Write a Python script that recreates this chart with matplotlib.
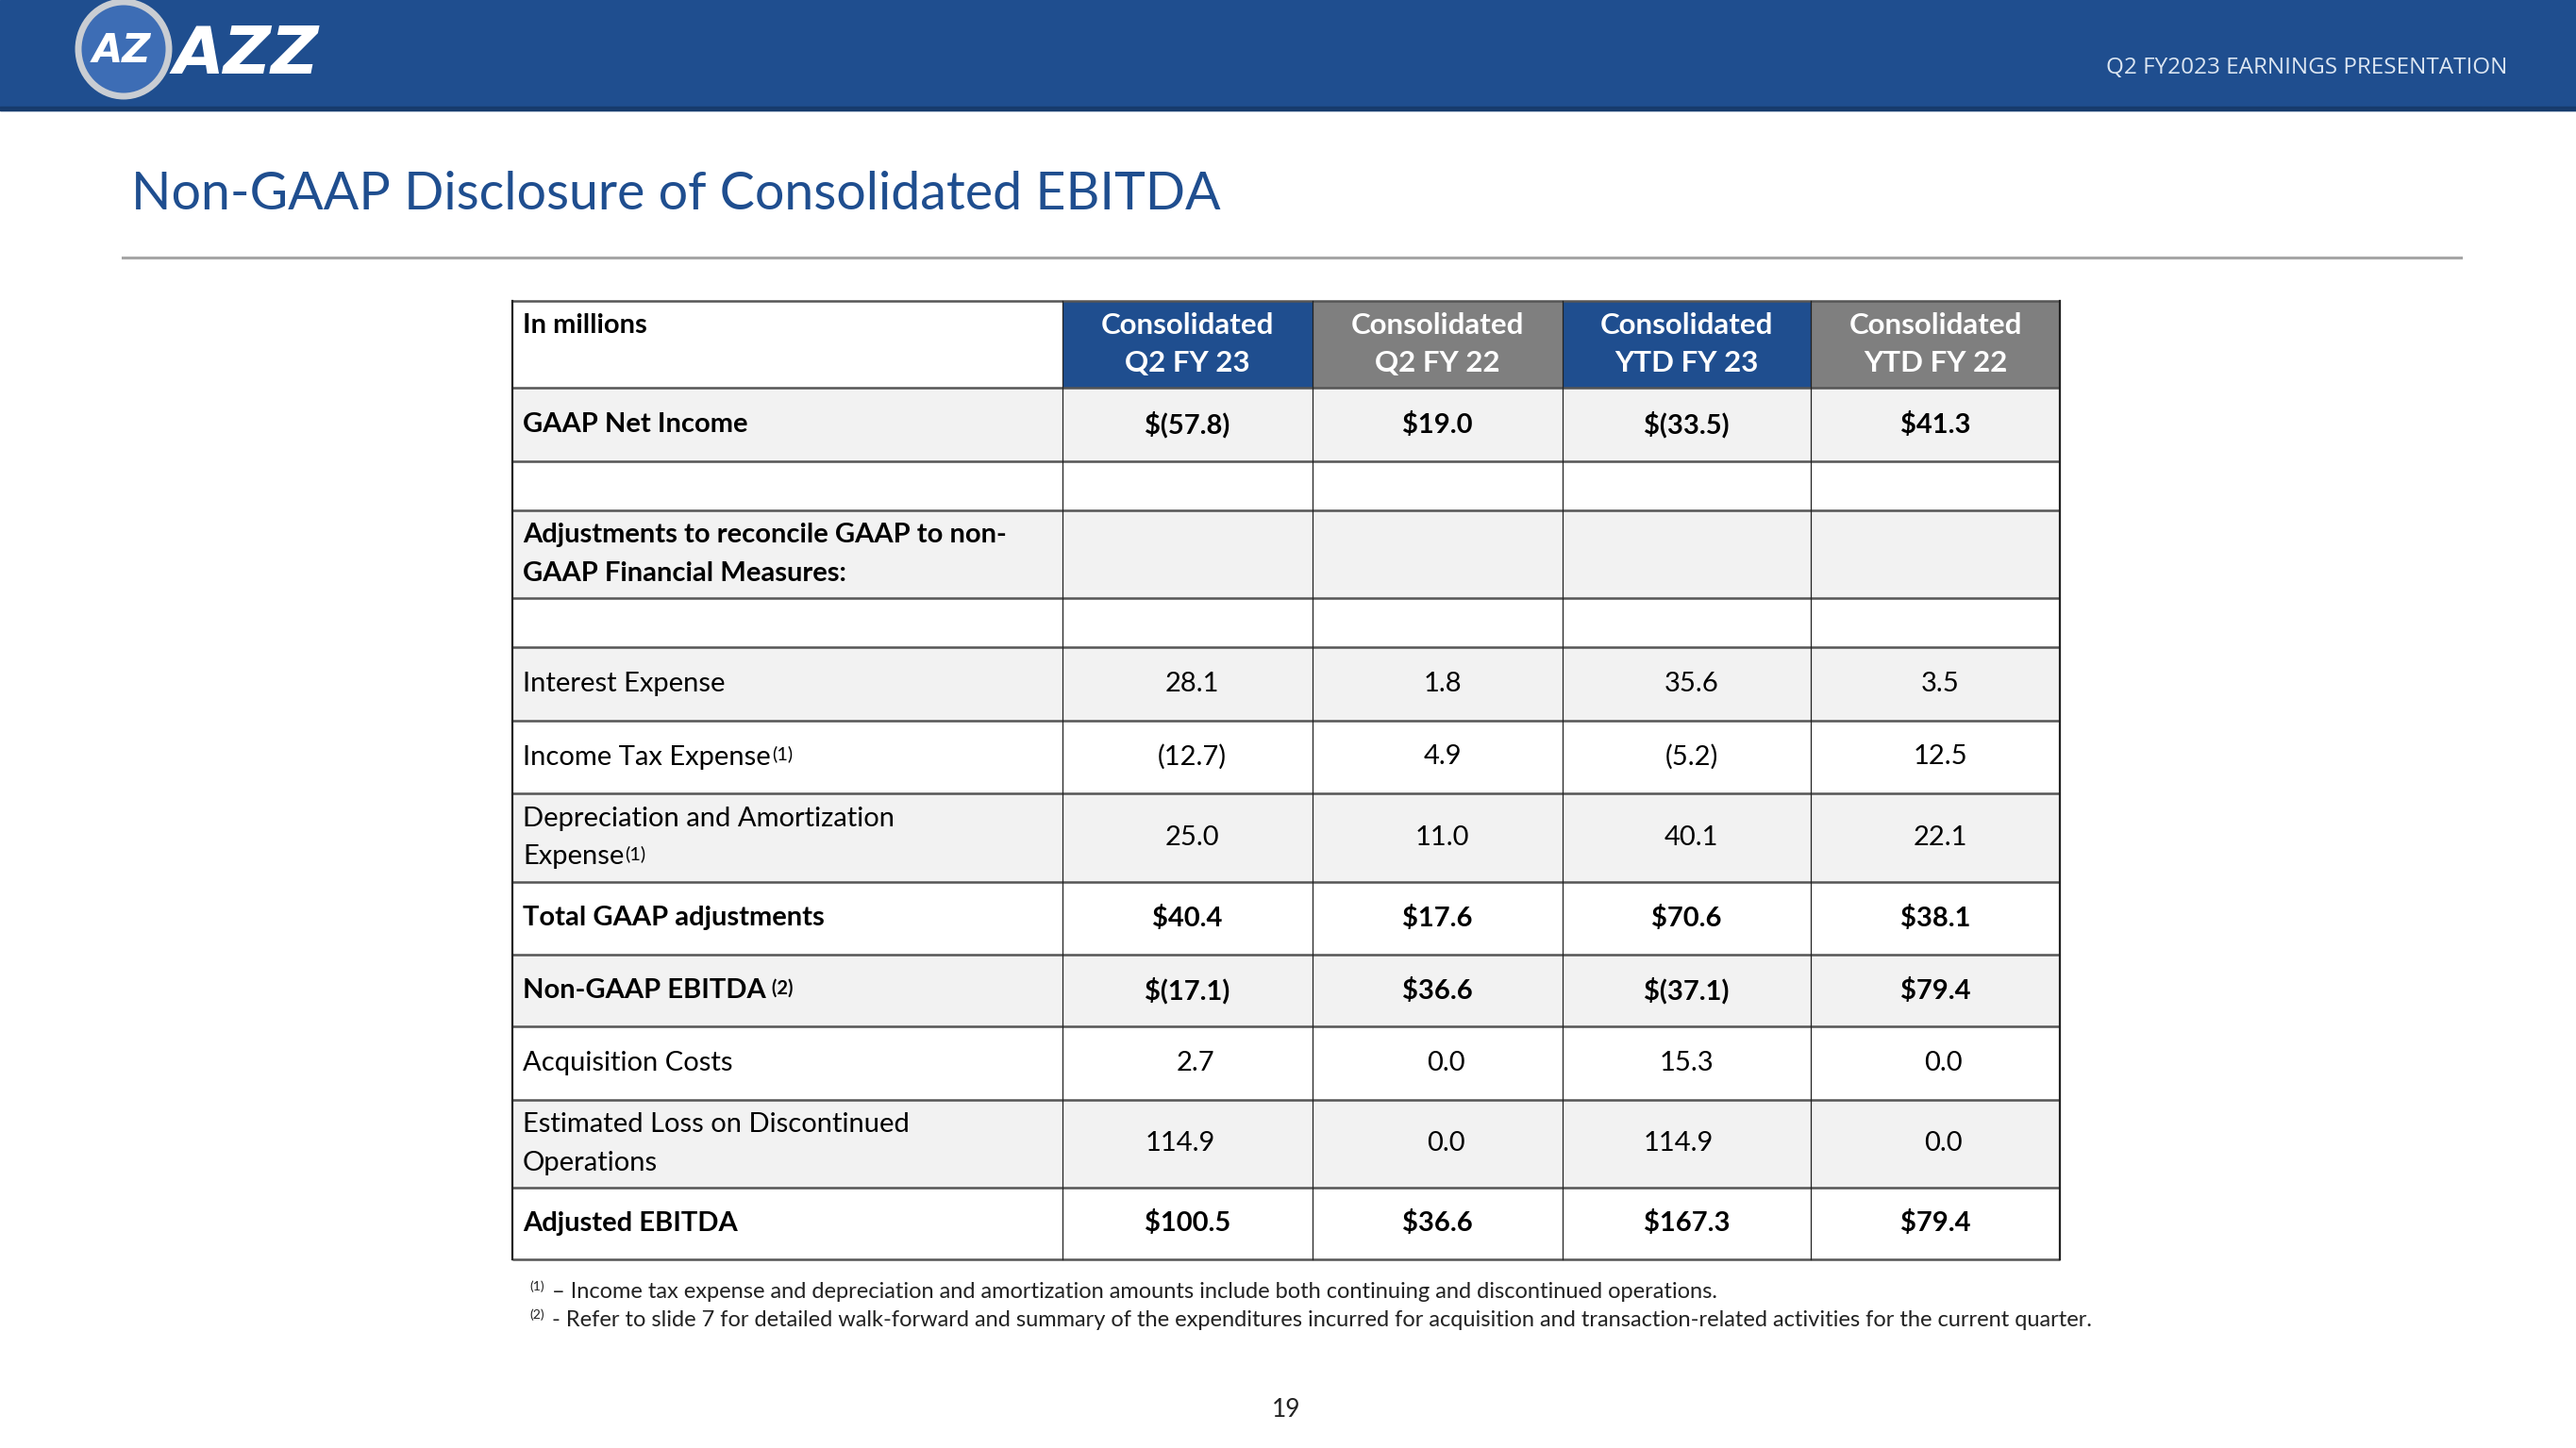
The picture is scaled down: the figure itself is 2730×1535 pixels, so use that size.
import matplotlib
matplotlib.use("Agg")
import matplotlib.pyplot as plt
from matplotlib.patches import Rectangle, Ellipse

# ---- table data (in millions) ----
column_headers = ["Consolidated\nQ2 FY 23", "Consolidated\nQ2 FY 22",
                  "Consolidated\nYTD FY 23", "Consolidated\nYTD FY 22"]
row_labels = [
    "GAAP Net Income",
    "",
    "Adjustments to reconcile GAAP to non-\nGAAP Financial Measures:",
    "",
    "Interest Expense",
    "Income Tax Expense",
    "Depreciation and Amortization\nExpense",
    "Total GAAP adjustments",
    "Non-GAAP EBITDA",
    "Acquisition Costs",
    "Estimated Loss on Discontinued\nOperations",
    "Adjusted EBITDA",
]
row_notes = ["", "", "", "", "", "(1)", "(1)", "", " (2)", "", "", ""]
bold_rows = [True, False, True, False, False, False, False, True, True, False, False, True]
q2_fy23 = [-57.8, None, None, None, 28.1, -12.7, 25.0, 40.4, -17.1, 2.7, 114.9, 100.5]
q2_fy22 = [19.0, None, None, None, 1.8, 4.9, 11.0, 17.6, 36.6, 0.0, 0.0, 36.6]
ytd_fy23 = [-33.5, None, None, None, 35.6, -5.2, 40.1, 70.6, -37.1, 15.3, 114.9, 167.3]
ytd_fy22 = [41.3, None, None, None, 3.5, 12.5, 22.1, 38.1, 79.4, 0.0, 0.0, 79.4]
footnote_marks = ["(1)", "(2)"]
footnote_texts = [
    "\u2013 Income tax expense and depreciation and amortization amounts include both continuing and discontinued operations.",
    "- Refer to slide 7 for detailed walk-forward and summary of the expenditures incurred for acquisition and transaction-related activities for the current quarter.",
]

# ---- style ----
BLUE = "#1F4E8F"
GREY_HEAD = "#7F7F7F"
ROW_GREY = "#F2F2F2"
LINE = "#555555"
FONT = "Lato"
TXT = 21

# layout in pixels of the 2730x1535 slide
col_edges = [543, 1126, 1391, 1656, 1919, 2183]
row_edges = [319, 411, 489, 541, 634, 686, 764, 841, 935, 1012, 1088, 1166, 1259, 1335]
# rows whose plain numbers sit right-aligned instead of centred
right_rows = [9, 10]


def fmt(v, bold):
    if v is None:
        return ""
    s = f"({abs(v):.1f})" if v < 0 else f"{v:.1f}"
    return "$" + s if bold else s


fig = plt.figure(figsize=(27.3, 15.35), dpi=100)
ax = fig.add_axes([0, 0, 1, 1])
ax.set_xlim(0, 2730)
ax.set_ylim(1535, 0)
ax.axis("off")

# header bar
ax.add_patch(Rectangle((0, 0), 2730, 117, color=BLUE, zorder=1))
ax.add_patch(Rectangle((0, 113), 2730, 4, color="#173B6C", zorder=1))
ax.text(2657, 72, "Q2 FY2023 EARNINGS PRESENTATION", ha="right", va="center",
        color="#DCE6F2", fontsize=17.5, family="Open Sans", zorder=3)

# logo
ax.add_patch(Ellipse((131, 52), 96, 100, facecolor="#3D6DB5", edgecolor="#C9CDD3", lw=5, zorder=2))
ax.text(129, 54, "AZ", ha="center", va="center", color="white", fontsize=30,
        fontweight="bold", style="italic", family="DejaVu Sans", zorder=3)
ax.text(184, 58, "AZZ", ha="left", va="center", color="white", fontsize=50,
        fontweight="bold", style="italic", family="DejaVu Sans", zorder=3)

# title and rule
ax.text(139, 207, "Non-GAAP Disclosure of Consolidated EBITDA", ha="left", va="center",
        color=BLUE, fontsize=40, fontweight="normal", family=FONT)
ax.plot([130, 2608], [273, 273], color="#A6A6A6", lw=2.2)

# header row
ax.add_patch(Rectangle((col_edges[0], row_edges[0]), col_edges[1] - col_edges[0],
                       row_edges[1] - row_edges[0], facecolor="white", zorder=1))
for j, head in enumerate(column_headers):
    x0, x1 = col_edges[j + 1], col_edges[j + 2]
    ax.add_patch(Rectangle((x0, row_edges[0]), x1 - x0, row_edges[1] - row_edges[0],
                           facecolor=BLUE if j % 2 == 0 else GREY_HEAD, zorder=1))
    for k, line in enumerate(head.split("\n")):
        ax.text((x0 + x1) / 2, 345 + 40 * k, line, ha="center", va="center", color="white",
                fontsize=22.5, fontweight="bold", family=FONT, zorder=3)
ax.text(554, 345, "In millions", ha="left", va="center", fontsize=TXT,
        fontweight="bold", family=FONT, zorder=3)

# body rows
columns = [q2_fy23, q2_fy22, ytd_fy23, ytd_fy22]
label_texts = []
for i, label in enumerate(row_labels):
    y0, y1 = row_edges[i + 1], row_edges[i + 2]
    yc = (y0 + y1) / 2
    ax.add_patch(Rectangle((col_edges[0], y0), col_edges[-1] - col_edges[0], y1 - y0,
                           facecolor=ROW_GREY if i % 2 == 0 else "white", zorder=1))
    weight = "bold" if bold_rows[i] else "normal"
    lines = label.split("\n")
    last = None
    for k, line in enumerate(lines):
        yy = yc + (k - (len(lines) - 1) / 2) * 40
        last = ax.text(554, yy, line, ha="left", va="center", fontsize=TXT,
                       fontweight=weight, family=FONT, zorder=3)
    if row_notes[i]:
        label_texts.append((last, row_notes[i]))
    for j, col in enumerate(columns):
        xc = (col_edges[j + 1] + col_edges[j + 2]) / 2
        s = fmt(col[i], bold_rows[i])
        if not s:
            continue
        if bold_rows[i]:
            ax.text(xc, yc, s, ha="center", va="center", fontsize=TXT,
                    fontweight="bold", family=FONT, zorder=3)
        elif i in right_rows:
            ax.text(xc + 29, yc, s, ha="right", va="center", fontsize=TXT,
                    family=FONT, zorder=3)
        else:
            ax.text(xc + 5, yc, s, ha="center", va="center", fontsize=TXT,
                    family=FONT, zorder=3)

# grid lines
for y in row_edges:
    ax.plot([col_edges[0], col_edges[-1]], [y, y], color=LINE, lw=1.8, zorder=4,
            solid_capstyle="butt")
for x in col_edges:
    ax.plot([x, x], [row_edges[0], row_edges[-1]], color="#222222",
            lw=1.6 if x in (col_edges[0], col_edges[-1]) else 0.9, zorder=4)

# superscripts after labels
fig.canvas.draw()
renderer = fig.canvas.get_renderer()
inv = ax.transData.inverted()
for txt, note in label_texts:
    bb = txt.get_window_extent(renderer)
    (xe, ye), = inv.transform([[bb.x1, bb.y1]])
    ax.text(xe + 1, ye + 1, note, ha="left", va="top", fontsize=14.5,
            fontweight=txt.get_fontweight(), family=FONT, zorder=3)

# footnotes
for k, (mark, note) in enumerate(zip(footnote_marks, footnote_texts)):
    y = 1370 + 30 * k
    ax.text(561, y - 6, mark, ha="left", va="center", fontsize=10, family=FONT, color="#222222")
    ax.text(585, y, note, ha="left", va="center", fontsize=17, family=FONT, color="#222222")

# page number
ax.text(1363, 1494, "19", ha="center", va="center", fontsize=19, family=FONT, color="#222222")

fig.savefig("out.png", dpi=100)
